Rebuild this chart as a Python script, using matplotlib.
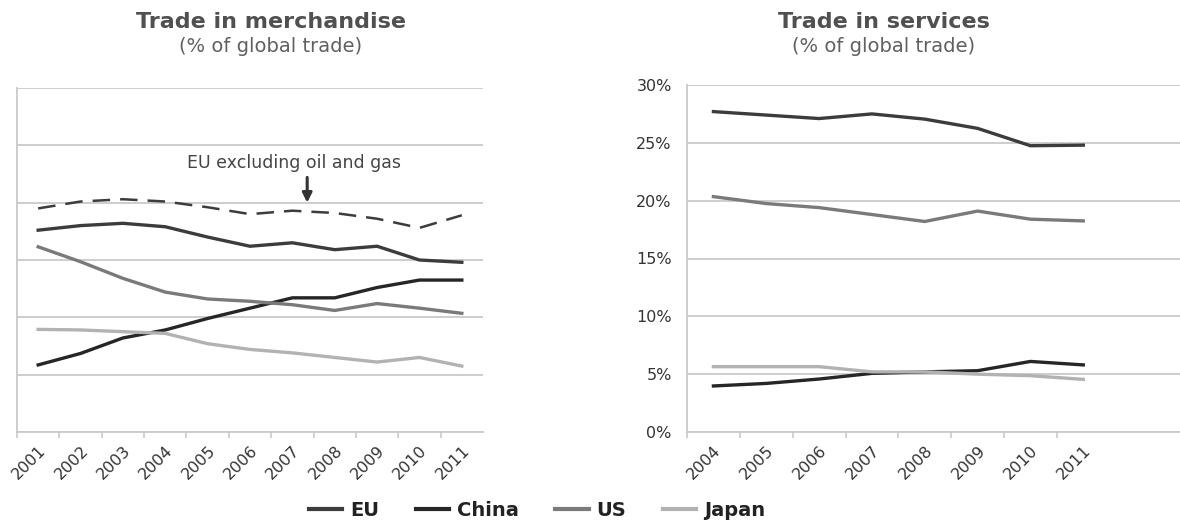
import numpy as np
import matplotlib
matplotlib.use('Agg')
import matplotlib.pyplot as plt
from matplotlib.ticker import FixedLocator, FuncFormatter

# Shares of global trade, percent
merch_years = ['2001', '2002', '2003', '2004', '2005', '2006', '2007', '2008', '2009', '2010', '2011']
merch_eu = [17.6, 18.0, 18.2, 17.9, 17.0, 16.2, 16.5, 15.9, 16.2, 15.0, 14.8]
merch_eu_ex_oil = [19.5, 20.1, 20.3, 20.1, 19.6, 19.0, 19.3, 19.1, 18.6, 17.8, 18.9]
merch_china = [5.85, 6.85, 8.2, 8.9, 9.9, 10.8, 11.7, 11.7, 12.6, 13.25, 13.25]
merch_us = [16.15, 14.85, 13.4, 12.2, 11.6, 11.4, 11.1, 10.6, 11.2, 10.8, 10.35]
merch_japan = [8.95, 8.9, 8.75, 8.6, 7.7, 7.2, 6.9, 6.5, 6.1, 6.5, 5.75]

serv_years = ['2004', '2005', '2006', '2007', '2008', '2009', '2010', '2011']
serv_eu = [27.7, 27.4, 27.1, 27.5, 27.05, 26.25, 24.75, 24.8]
serv_china = [3.98, 4.2, 4.58, 5.07, 5.2, 5.3, 6.1, 5.8]
serv_us = [20.35, 19.75, 19.4, 18.8, 18.2, 19.1, 18.4, 18.25]
serv_japan = [5.65, 5.65, 5.65, 5.2, 5.2, 5.0, 4.87, 4.55]

y_ticks = [0, 5, 10, 15, 20, 25, 30]

colors = {'EU': '#3c3c3c', 'China': '#262626', 'US': '#7a7a7a', 'Japan': '#b2b2b2'}
grid_color = '#c9c9c9'
lw = 2.4

fig = plt.figure(figsize=(11.8, 5.23), dpi=100)
ax1 = fig.add_axes([17 / 1180, 91 / 523, 466 / 1180, 344 / 523])
ax2 = fig.add_axes([687 / 1180, 91 / 523, 493 / 1180, 347 / 523])


def style_axes(ax, years, show_labels):
    n = len(years)
    ax.set_ylim(0, 30)
    ax.yaxis.set_major_locator(FixedLocator(y_ticks))
    ax.grid(axis='y', color=grid_color, linewidth=1.3)
    ax.set_axisbelow(True)
    for side in ['top', 'right']:
        ax.spines[side].set_visible(False)
    for side in ['left', 'bottom']:
        ax.spines[side].set_color(grid_color)
        ax.spines[side].set_linewidth(1.3)
    ax.set_xticks(np.arange(n))
    ax.set_xticklabels(years, rotation=45, ha='right', rotation_mode='anchor',
                       fontsize=11.5, color='#333333')
    ax.set_xticks(np.arange(n) - 0.5, minor=True)
    ax.tick_params(axis='x', which='major', length=0, pad=8)
    ax.tick_params(axis='x', which='minor', length=4, color=grid_color, width=1.2)
    ax.tick_params(axis='y', length=0)
    if show_labels:
        ax.yaxis.set_major_formatter(FuncFormatter(lambda v, _: f'{int(v)}%'))
        ax.tick_params(axis='y', labelsize=11.5, labelcolor='#333333', pad=11)
    else:
        ax.set_yticklabels([])


# Merchandise panel
x1 = np.arange(len(merch_years))
ax1.set_xlim(-0.5, len(merch_years) - 0.5)
ax1.plot(x1, merch_eu_ex_oil, color=colors['EU'], lw=1.8, dashes=(7, 4))
ax1.plot(x1, merch_eu, color=colors['EU'], lw=lw)
ax1.plot(x1, merch_china, color=colors['China'], lw=lw)
ax1.plot(x1, merch_us, color=colors['US'], lw=lw)
ax1.plot(x1, merch_japan, color=colors['Japan'], lw=lw)
style_axes(ax1, merch_years, False)
ax1.annotate('', xy=(6.35, 20.0), xytext=(6.35, 22.2),
             arrowprops=dict(arrowstyle='-|>', color='#333333', lw=2.2,
                             mutation_scale=14, shrinkA=0, shrinkB=0))
ax1.text(6.05, 23.5, 'EU excluding oil and gas', ha='center', va='center',
         fontsize=12.5, color='#444444')

# Services panel
x2 = np.arange(len(serv_years))
ax2.set_xlim(-0.5, len(serv_years) + 0.83)
ax2.plot(x2, serv_eu, color=colors['EU'], lw=lw)
ax2.plot(x2, serv_china, color=colors['China'], lw=lw)
ax2.plot(x2, serv_us, color=colors['US'], lw=lw)
ax2.plot(x2, serv_japan, color=colors['Japan'], lw=lw)
style_axes(ax2, serv_years, True)

# Titles
for cx, title in [(271, 'Trade in merchandise'), (884, 'Trade in services')]:
    fig.text(cx / 1180, 1 - 22 / 523, title, ha='center', va='center',
             fontsize=16, fontweight='bold', color='#505050')
    fig.text(cx / 1180, 1 - 46 / 523, '(% of global trade)', ha='center', va='center',
             fontsize=14, color='#606060')

# Shared legend
handles = [plt.Line2D([], [], color=colors[k], lw=3) for k in colors]
leg = fig.legend(handles, list(colors), loc='center', bbox_to_anchor=(537 / 1180, 1 - 510 / 523),
                 ncol=4, frameon=False, handlelength=1.7, columnspacing=1.9,
                 handletextpad=0.4, prop={'weight': 'bold', 'size': 14})
for t in leg.get_texts():
    t.set_color('#222222')

fig.savefig('out.png', dpi=100, facecolor='white')
